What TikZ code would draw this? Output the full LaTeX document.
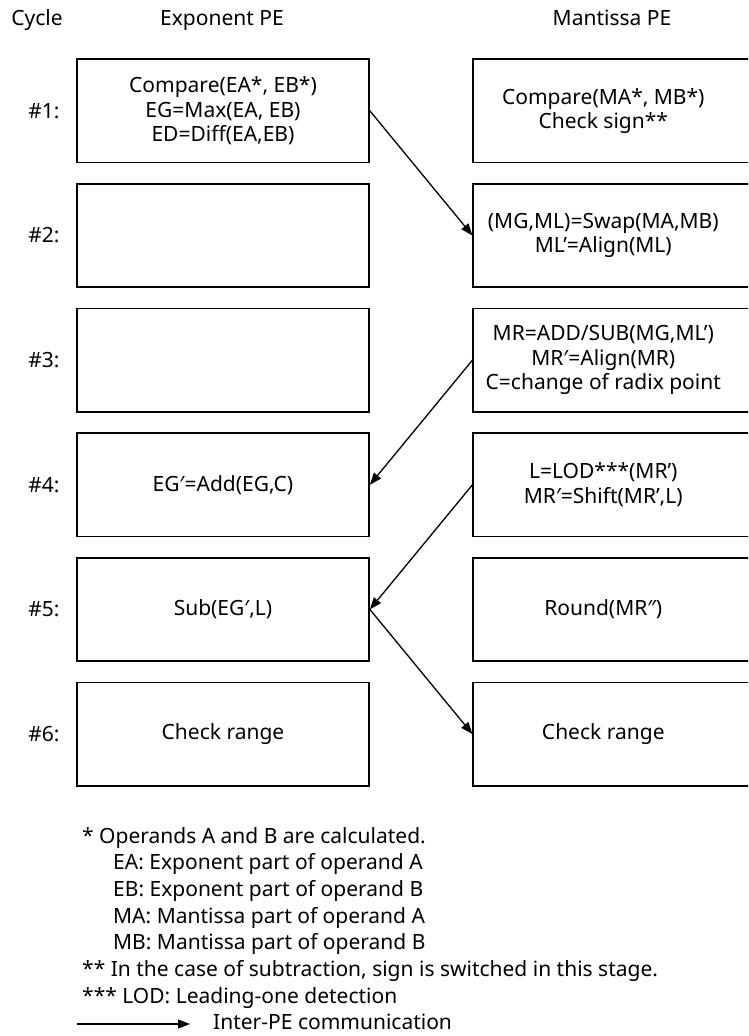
\documentclass[tikz,border=0pt]{standalone}
\usepackage{fontspec}
\setmainfont{Noto Sans}
\usetikzlibrary{arrows.meta}

\begin{document}
\begin{tikzpicture}[x=1pt,y=-1pt,
  every node/.style={font=\fontsize{21}{24.5}\selectfont, inner sep=0pt},
  box/.style={draw, line width=1.7pt, minimum width=292pt, minimum height=103.5pt, align=center},
  txt/.style={align=center},
  legend/.style={anchor=base west},
  flow/.style={line width=1.3pt, -{Triangle[length=12pt,width=9pt]}},
]
\useasboundingbox (0,0) rectangle (748,1036);
\clip (0,0) rectangle (748,1036);

% column headers
\node[anchor=base] (hc) at (37,25) {Cycle};
\node[anchor=base] (he) at (222,25) {Exponent PE};
\node[anchor=base] (hm) at (612,25) {Mantissa PE};

% one row per cycle: label and mantissa box (open to the right)
\foreach \k/\c in {1/110.8, 2/235.5, 3/360.1, 4/484.8, 5/609.4, 6/734.1} {
  \node (c\k) at (44,\c) {\#\k:};
  \node[box] (m\k) at (619.3,\c) {};
}

% exponent PE
\node[box] (l1) at (223,110.8) {Compare(EA*, EB*)\\EG=Max(EA, EB)\\ED=Diff(EA,EB)};
\node[box] (l2) at (223,235.5) {};
\node[box] (l3) at (223,360.1) {};
\node[box] (l4) at (223,484.8) {EG′=Add(EG,C)};
\node[box] (l5) at (223,609.4) {Sub(EG′,L)};
\node[box] (l6) at (223,734.1) {Check range};

% mantissa PE
\node[txt] (t1) at ([xshift=-16pt]m1.center) {Compare(MA*, MB*)\\Check sign**};
\node[txt] (t2) at ([xshift=-16pt]m2.center) {(MG,ML)=Swap(MA,MB)\\ML’=Align(ML)};
\node[txt] (t3) at ([xshift=-16pt]m3.center) {MR=ADD/SUB(MG,ML’)\\MR′=Align(MR)\\C=change of radix point};
\node[txt] (t4) at ([xshift=-16pt]m4.center) {L=LOD***(MR’)\\MR′=Shift(MR’,L)};
\node[txt] (t5) at ([xshift=-16pt]m5.center) {Round(MR″)};
\node[txt] (t6) at ([xshift=-16pt]m6.center) {Check range};

% inter-PE communication
\draw[flow] (l1.east) -- (m2.west);
\draw[flow] (m3.west) -- (l4.east);
\draw[flow] (m4.west) -- (l5.east);
\draw[flow] (l5.east) -- (m6.west);

% notes
\node[legend] (n1) at (82,843) {* Operands A and B are calculated.};
\node[legend] (n2) at (113,869.7) {EA: Exponent part of operand A};
\node[legend] (n3) at (113,896.4) {EB: Exponent part of operand B};
\node[legend] (n4) at (113,923.1) {MA: Mantissa part of operand A};
\node[legend] (n5) at (113,949.8) {MB: Mantissa part of operand B};
\node[legend] (n6) at (82,976.5) {** In the case of subtraction, sign is switched in this stage.};
\node[legend] (n7) at (82,1003.2) {*** LOD: Leading-one detection};
\coordinate (ka) at (77,1024);
\coordinate (kb) at (190,1024);
\draw[flow] (ka) -- (kb);
\node[legend] (n8) at (213,1029.5) {Inter-PE communication};
\end{tikzpicture}
\end{document}
